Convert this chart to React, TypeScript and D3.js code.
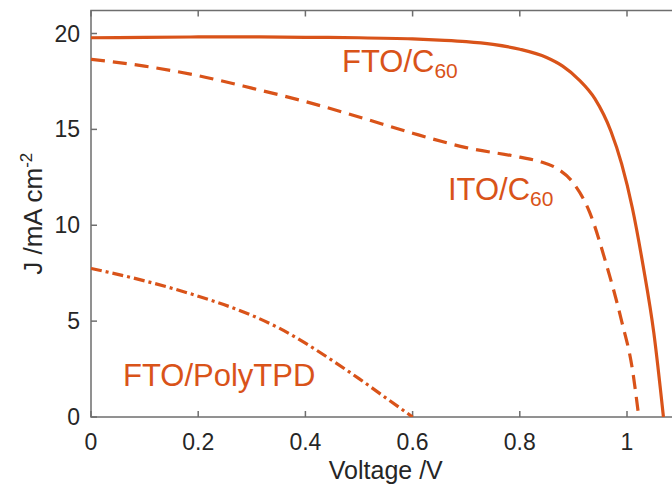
import React from "react";
import * as d3 from "d3";

const xTicks = [0, 0.2, 0.4, 0.6, 0.8, 1];
const yTicks = [0, 5, 10, 15, 20];

const voltFTO = [0, 0.1, 0.2, 0.3, 0.4, 0.5, 0.6, 0.65, 0.7, 0.75, 0.8, 0.85, 0.88, 0.91, 0.94, 0.97, 0.99, 1.01, 1.03, 1.05, 1.068];
const jFTO = [19.78, 19.8, 19.82, 19.82, 19.8, 19.78, 19.72, 19.66, 19.58, 19.43, 19.18, 18.75, 18.3, 17.6, 16.6, 14.9, 13.2, 10.9, 7.9, 4.4, 0];

const voltITO = [0, 0.1, 0.2, 0.3, 0.4, 0.5, 0.6, 0.7, 0.8, 0.84, 0.87, 0.9, 0.93, 0.96, 0.99, 1.01, 1.022];
const jITO = [18.65, 18.3, 17.8, 17.15, 16.45, 15.65, 14.8, 14.05, 13.55, 13.3, 12.95, 12.2, 10.7, 8.1, 5.0, 2.5, 0];

const voltPoly = [0, 0.1, 0.2, 0.3, 0.35, 0.4, 0.45, 0.5, 0.55, 0.6];
const jPoly = [7.75, 7.1, 6.3, 5.3, 4.65, 3.85, 2.95, 2.0, 1.0, 0];

const ORANGE = "#D95319";
const AXIS = "#6e6e6e";
const TEXT = "#262626";
const FONT = "'Liberation Sans', Arial, Helvetica, sans-serif";

export default function App() {
  const W = 672, H = 488;
  const x = d3.scaleLinear().domain([0, 1.1]).range([91, 680.6]);
  const y = d3.scaleLinear().domain([0, 21.2]).range([417, 10.5]);
  const [x0, x1] = x.range();
  const [y0, y1] = y.range();

  const mk = (vs: number[], js: number[]) =>
    d3.line<number>().x((_, i) => x(vs[i])).y((_, i) => y(js[i])).curve(d3.curveMonotoneX)(vs) || "";

  const series = [
    { d: mk(voltFTO, jFTO), dash: "none" },
    { d: mk(voltITO, jITO), dash: "14,8" },
    { d: mk(voltPoly, jPoly), dash: "11,4,3,4" },
  ];

  return (
    <svg width={W} height={H} style={{ position: "absolute", left: 0, top: 0, background: "#fff" }} fontFamily={FONT}>
      <defs>
        <clipPath id="clip">
          <rect x={x0} y={y1} width={x1 - x0} height={y0 - y1} />
        </clipPath>
      </defs>
      <rect width={W} height={H} fill="#fff" />
      <rect x={x0} y={y1} width={x1 - x0} height={y0 - y1} fill="none" stroke={AXIS} strokeWidth={1.5} />
      {xTicks.map((t) => (
        <g key={"x" + t}>
          <line x1={x(t)} x2={x(t)} y1={y0} y2={y0 - 6} stroke={AXIS} strokeWidth={1.5} />
          <line x1={x(t)} x2={x(t)} y1={y1} y2={y1 + 6} stroke={AXIS} strokeWidth={1.5} />
          <text x={x(t)} y={450} textAnchor="middle" fontSize={23} fill={TEXT}>{String(t)}</text>
        </g>
      ))}
      {yTicks.map((t) => (
        <g key={"y" + t}>
          <line x1={x0} x2={x0 + 6} y1={y(t)} y2={y(t)} stroke={AXIS} strokeWidth={1.5} />
          <text x={80} y={y(t) + 8} textAnchor="end" fontSize={23} fill={TEXT}>{String(t)}</text>
        </g>
      ))}
      <text x={(x0 + x1) / 2} y={479} textAnchor="middle" fontSize={25} fill={TEXT}>Voltage /V</text>
      <text transform={`translate(42,${(y0 + y1) / 2}) rotate(-90)`} textAnchor="middle" fontSize={26} fill={TEXT}>
        J /mA cm<tspan dy={-10} fontSize={17}>-2</tspan>
      </text>
      <g clipPath="url(#clip)">
        {series.map((s, i) => (
          <path key={i} d={s.d} fill="none" stroke={ORANGE} strokeWidth={3.2} strokeDasharray={s.dash} />
        ))}
      </g>
      <text x={342} y={72} fontSize={31} fill={ORANGE}>FTO/C<tspan dy={6} fontSize={21}>60</tspan></text>
      <text x={448} y={200} fontSize={31} fill={ORANGE}>ITO/C<tspan dy={6} fontSize={21}>60</tspan></text>
      <text x={123} y={386} fontSize={31} fill={ORANGE}>FTO/PolyTPD</text>
    </svg>
  );
}
